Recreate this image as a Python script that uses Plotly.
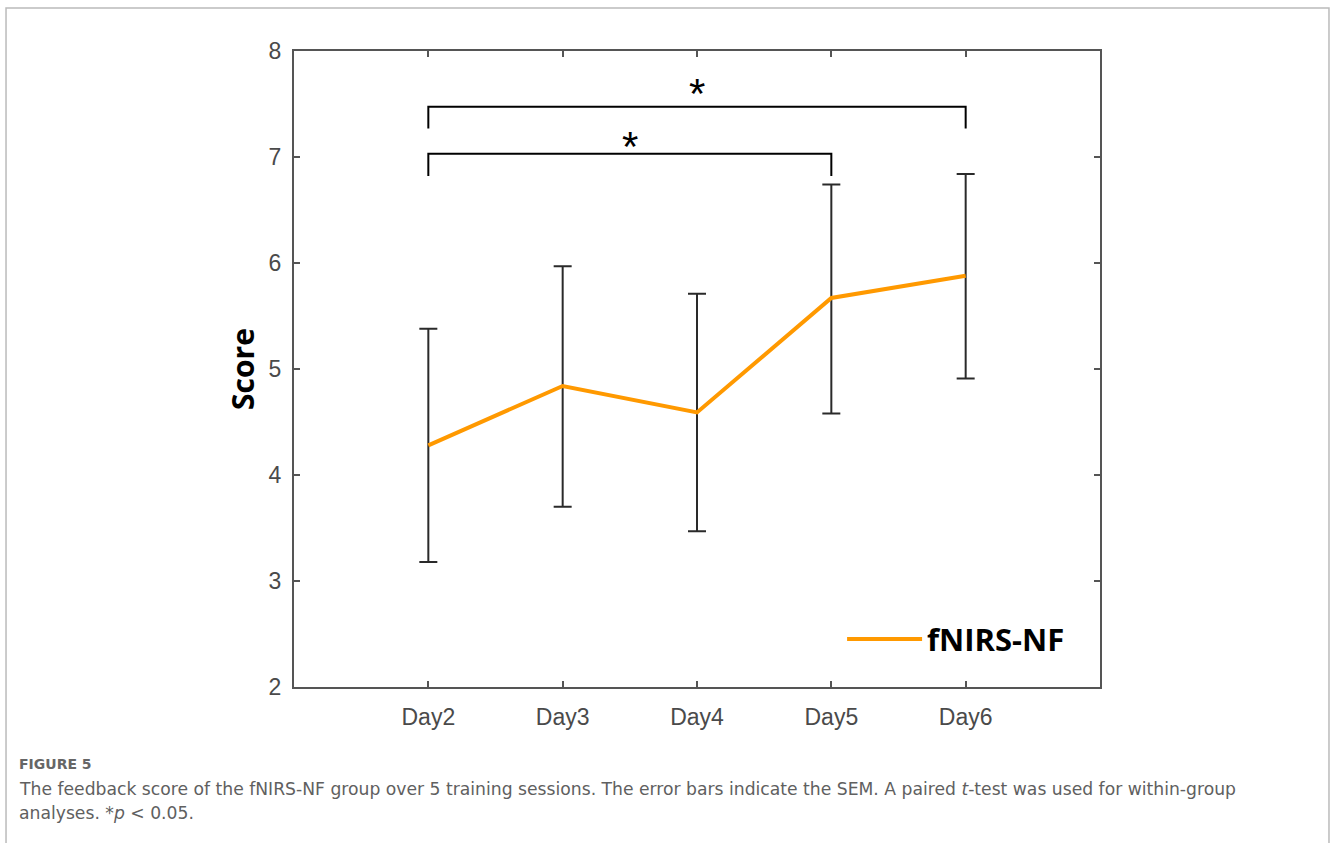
import plotly.graph_objects as go

days = ["Day2", "Day3", "Day4", "Day5", "Day6"]
score_mean = [4.28, 4.84, 4.59, 5.67, 5.88]
err_plus = [1.10, 1.13, 1.12, 1.07, 0.96]
err_minus = [1.10, 1.14, 1.12, 1.09, 0.97]
y_ticks = [2, 3, 4, 5, 6, 7, 8]

# significance brackets: (start, end, bar level, leg bottom, star x, star y)
brackets = [
    ("Day2", "Day6", 7.475, 7.27, "Day4", 7.60),
    ("Day2", "Day5", 7.03, 6.82, 1.5, 7.10),
]

caption_label = "FIGURE 5"
caption_l1 = "The feedback score of the fNIRS-NF group over 5 training sessions. The error bars indicate the SEM. A paired <i>t</i>-test was used for within-group"
caption_l2 = "analyses. *<i>p</i> &lt; 0.05."

fig = go.Figure()

fig.add_trace(go.Scatter(
    x=days, y=score_mean, mode="lines", name="fNIRS-NF",
    line=dict(color="#FF9900", width=4),
    error_y=dict(type="data", array=err_plus, arrayminus=err_minus,
                 color="#2a2a2a", thickness=2, width=9, visible=True),
))

for a, b, top, bot, sx, sy in brackets:
    fig.add_trace(go.Scatter(
        x=[a, a, b, b], y=[bot, top, top, bot], mode="lines",
        line=dict(color="black", width=2), showlegend=False, hoverinfo="skip",
    ))
    fig.add_annotation(x=sx, y=sy, text="*", showarrow=False,
                       font=dict(family="Liberation Sans", size=42, color="black"),
                       xref="x", yref="y", yanchor="middle")

axis_common = dict(showline=True, linecolor="#555555", linewidth=2, mirror="ticks",
                   ticks="inside", ticklen=6, tickcolor="#555555", tickwidth=1.5,
                   showgrid=False, zeroline=False,
                   tickfont=dict(family="Liberation Sans", size=23, color="#4a4a4a"))

fig.update_xaxes(categoryorder="array", categoryarray=days, range=[-1, 5],
                 ticklabelstandoff=8, **axis_common)
fig.update_yaxes(range=[2, 8], tickvals=y_ticks,
                 title=dict(text="<b>Score</b>", standoff=5,
                            font=dict(family="Open Sans", size=30, color="black")),
                 ticklabelstandoff=6, **axis_common)

fig.update_layout(
    width=1330, height=843,
    margin=dict(l=294, r=230, t=51, b=156),
    plot_bgcolor="white", paper_bgcolor="white",
    showlegend=True,
    legend=dict(x=0.68, y=0.075, xanchor="left", yanchor="middle",
                bgcolor="rgba(0,0,0,0)", itemwidth=75,
                font=dict(family="Open Sans", size=31, color="black", weight="bold")),
    shapes=[dict(type="rect", xref="paper", yref="paper",
                 x0=-0.3573, x1=1.2841, y0=-0.30, y1=1.0676,
                 line=dict(color="#bbbbbb", width=1.5), layer="below")],
)

fig.add_annotation(xref="paper", yref="paper", x=(17 - 294) / 806, y=(687 - 764) / 636,
                   xanchor="left", yanchor="middle", showarrow=False, text=caption_label,
                   font=dict(family="DejaVu Sans", size=14, color="#666666", weight=600))
fig.add_annotation(xref="paper", yref="paper", x=(17 - 294) / 806, y=(687 - 789) / 636,
                   xanchor="left", yanchor="middle", showarrow=False, text=caption_l1,
                   font=dict(family="DejaVu Sans", size=17.2, color="#606060"))
fig.add_annotation(xref="paper", yref="paper", x=(17 - 294) / 806, y=(687 - 813) / 636,
                   xanchor="left", yanchor="middle", showarrow=False, text=caption_l2,
                   font=dict(family="DejaVu Sans", size=17.2, color="#606060"))

fig.write_html("out.html", config={"displayModeBar": False},
               post_script="document.body.style.margin='0px';")
